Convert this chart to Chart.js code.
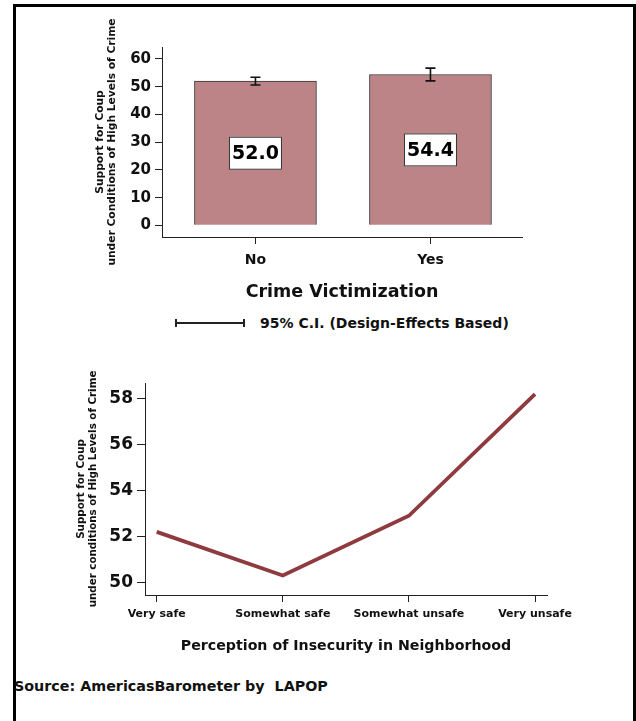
<!DOCTYPE html>
<html>
<head>
<meta charset="utf-8">
<script src="https://cdn.jsdelivr.net/npm/chart.js@4/dist/chart.umd.min.js"></script>
<style>
  body { margin: 0; background: #fff; font-family: "DejaVu Sans", "Liberation Sans", Arial, sans-serif; }
  #page { position: relative; width: 636px; height: 721px; overflow: hidden; }
  #frame { position: absolute; left: 13px; top: 4px; width: 617px; height: 800px; border: 3px solid #000; }
  canvas { position: absolute; left: 0; }
  #top-chart { top: 0; }
  #bottom-chart { top: 360px; }
  .ci-line { position: absolute; left: 176px; top: 322px; width: 69px; height: 0; border-top: 2px solid #222; }
  .ci-cap { position: absolute; top: 319px; width: 0; height: 8px; border-left: 2px solid #222; }
  .legend-text { position: absolute; left: 260px; top: 314px; font-weight: bold; font-size: 14px; line-height: 18px; color: #111; }
  .source { position: absolute; left: 14px; top: 677px; font-weight: bold; font-size: 14.3px; line-height: 18px; color: #111; white-space: pre; }
</style>
</head>
<body>
<div id="page">
  <div id="frame"></div>
  <canvas id="top-chart" width="636" height="310"></canvas>
  <canvas id="bottom-chart" width="636" height="310"></canvas>
  <div class="ci-line"></div>
  <div class="ci-cap" style="left:175px"></div>
  <div class="ci-cap" style="left:243px"></div>
  <div class="legend-text">95% C.I. (Design-Effects Based)</div>
  <div class="source">Source: AmericasBarometer by  LAPOP</div>
</div>
<script>
// data
var crimeCategories = ['No', 'Yes'];
var crimeMeans = [52.0, 54.4];
var crimeCiLow = [50.6, 52.1];
var crimeCiHigh = [53.4, 56.7];
var supportTicks = [0, 10, 20, 30, 40, 50, 60];

var perceptionCategories = ['Very safe', 'Somewhat safe', 'Somewhat unsafe', 'Very unsafe'];
var perceptionMeans = [52.2, 50.3, 52.9, 58.2];
var perceptionTicks = [50, 52, 54, 56, 58];

var FONT = '"DejaVu Sans", "Liberation Sans", Arial, sans-serif';
Chart.defaults.font.family = FONT;
Chart.defaults.color = '#111';

// place categories a bit off the plot edges, like the original Stata graph
function categoryRange(start, end) {
    return function (scale) {
        scale._startValue = start;
        scale._valueRange = end - start;
    };
}

function fixedTicks(values) {
    return function (scale) {
        scale.ticks = values.map(function (v) { return { value: v }; });
    };
}

// error bars + value boxes for the bar chart
var barExtras = {
    id: 'barExtras',
    afterDatasetsDraw: function (chart) {
        var ctx = chart.ctx;
        var x = chart.scales.x, y = chart.scales.y;
        ctx.save();
        for (var i = 0; i < crimeMeans.length; i++) {
            var cx = x.getPixelForValue(i);
            var yHi = y.getPixelForValue(crimeCiHigh[i]);
            var yLo = y.getPixelForValue(crimeCiLow[i]);
            ctx.strokeStyle = '#111';
            ctx.lineWidth = 1.6;
            ctx.beginPath();
            ctx.moveTo(cx, yHi); ctx.lineTo(cx, yLo);
            ctx.moveTo(cx - 5, yHi); ctx.lineTo(cx + 5, yHi);
            ctx.moveTo(cx - 5, yLo); ctx.lineTo(cx + 5, yLo);
            ctx.stroke();

            var cy = y.getPixelForValue(crimeMeans[i] / 2);
            var w = 53, h = 33;
            ctx.fillStyle = '#fff';
            ctx.fillRect(cx - w / 2, cy - h / 2, w, h);
            ctx.lineWidth = 1;
            ctx.strokeStyle = '#333';
            ctx.strokeRect(cx - w / 2 + 0.5, cy - h / 2 + 0.5, w - 1, h - 1);
            ctx.fillStyle = '#000';
            ctx.font = 'bold 19px ' + FONT;
            ctx.textAlign = 'center';
            ctx.textBaseline = 'middle';
            ctx.fillText(crimeMeans[i].toFixed(1), cx, cy + 1);
        }
        ctx.restore();
    }
};

new Chart(document.getElementById('top-chart'), {
    type: 'bar',
    data: {
        labels: crimeCategories,
        datasets: [{
            data: crimeMeans,
            backgroundColor: '#bc8486',
            borderColor: '#333',
            borderWidth: 1,
            barThickness: 122
        }]
    },
    options: {
        responsive: false,
        animation: false,
        layout: { padding: { left: 0, right: 114, top: 47, bottom: 0 } },
        plugins: { legend: { display: false }, tooltip: { enabled: false } },
        scales: {
            x: {
                offset: false,
                afterBuildTicks: categoryRange(-0.534, 1.523),
                afterFit: function (s) { s.height = 73; },
                grid: { offset: false, drawOnChartArea: false, tickLength: 7, color: '#222' },
                border: { color: '#222', width: 1 },
                ticks: { font: { size: 14, weight: 'bold' }, padding: 8, color: '#111' },
                title: {
                    display: true,
                    text: 'Crime Victimization',
                    font: { size: 17.5, weight: 'bold' },
                    padding: { top: 0, bottom: 7 },
                    color: '#111'
                }
            },
            y: {
                min: -4.2,
                max: 64.3,
                afterBuildTicks: fixedTicks(supportTicks),
                afterFit: function (s) { s.width = 162; },
                grid: { drawOnChartArea: false, tickLength: 7, color: '#222' },
                border: { color: '#222', width: 1 },
                ticks: { font: { size: 15, weight: 'bold' }, padding: 4, color: '#111' },
                title: {
                    display: true,
                    text: ['Support for Coup', 'under Conditions of High Levels of Crime'],
                    font: { size: 10.7, weight: 'bold', lineHeight: 1.12 },
                    padding: { top: 94, bottom: 0 },
                    color: '#111'
                }
            }
        }
    },
    plugins: [barExtras]
});

new Chart(document.getElementById('bottom-chart'), {
    type: 'line',
    data: {
        labels: perceptionCategories,
        datasets: [{
            data: perceptionMeans,
            borderColor: '#8e3a3f',
            borderWidth: 3.8,
            pointRadius: 0,
            tension: 0,
            fill: false
        }]
    },
    options: {
        responsive: false,
        animation: false,
        layout: { padding: { left: 0, right: 89, top: 23, bottom: 0 } },
        plugins: { legend: { display: false }, tooltip: { enabled: false } },
        scales: {
            x: {
                offset: false,
                afterBuildTicks: categoryRange(-0.0928, 3.095),
                afterFit: function (s) { s.height = 75; },
                grid: { offset: false, drawOnChartArea: false, tickLength: 7, color: '#222' },
                border: { color: '#222', width: 1 },
                ticks: { font: { size: 11, weight: 'bold' }, padding: 6, color: '#111', maxRotation: 0, autoSkip: false },
                title: {
                    display: true,
                    text: 'Perception of Insecurity in Neighborhood',
                    font: { size: 14.2, weight: 'bold' },
                    padding: { top: 0, bottom: 15 },
                    color: '#111'
                }
            },
            y: {
                min: 49.45,
                max: 58.68,
                afterBuildTicks: fixedTicks(perceptionTicks),
                afterFit: function (s) { s.width = 145; },
                grid: { drawOnChartArea: false, tickLength: 8, color: '#222' },
                border: { color: '#222', width: 1 },
                ticks: { font: { size: 17, weight: 'bold' }, padding: 4, color: '#111' },
                title: {
                    display: true,
                    text: ['Support for Coup', 'under conditions of High Levels of Crime'],
                    font: { size: 10.3, weight: 'bold', lineHeight: 1.12 },
                    padding: { top: 76, bottom: 0 },
                    color: '#111'
                }
            }
        }
    }
});
</script>
</body>
</html>
